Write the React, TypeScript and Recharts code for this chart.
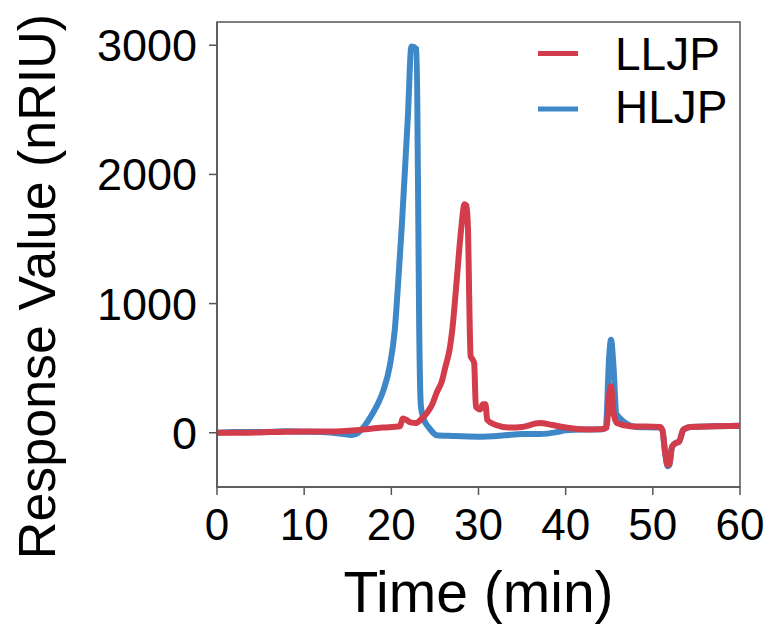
import React from "react";
import { LineChart, Line, XAxis, YAxis, ReferenceArea, Label } from "recharts";

// LLJP series (red)
const lljpTime = [0, 3, 6, 10, 13, 16, 19, 21, 21.3, 21.7, 22.2, 22.8, 23.5, 24.1, 24.7, 25.2, 25.8, 26.2, 26.7, 27, 27.5, 28, 28.4, 28.6, 28.8, 28.9, 29.0, 29.1, 29.3, 29.5, 29.7, 30.2, 30.5, 30.8, 31.0, 32, 33.5, 35, 37, 38.5, 40, 42.4, 44.3, 44.7, 45.0, 45.2, 45.5, 45.9, 47.4, 50.8, 51.1, 51.4, 51.7, 51.9, 52.2, 52.6, 53.0, 53.5, 54.3, 57, 60];
const lljpValues = [0, 0, 5, 10, 10, 20, 40, 50, 110, 100, 80, 75, 110, 155, 220, 310, 400, 510, 650, 800, 1180, 1570, 1770, 1760, 1570, 1180, 800, 590, 570, 540, 200, 180, 220, 220, 100, 60, 40, 45, 75, 60, 40, 25, 30, 40, 300, 360, 150, 75, 50, 45, 20, -150, -250, -240, -110, -80, -70, 25, 45, 50, 55];

// HLJP series (blue)
const hljpTime = [0, 2, 5, 8, 10, 12, 14, 15.5, 16.2, 17, 17.9, 18.5, 19.1, 19.8, 20.4, 20.8, 21.2, 21.5, 21.9, 22.3, 22.9, 23.05, 23.2, 23.4, 23.7, 24.3, 24.8, 25.2, 27, 30, 33, 35, 37, 39, 40, 42, 44, 44.6, 45.0, 45.2, 45.5, 45.8, 46.2, 47, 48, 50.8, 51.1, 51.4, 51.7, 51.9, 52.2, 52.6, 53.0, 53.5, 54.3, 57, 60];
const hljpValues = [0, 5, 5, 12, 8, 5, -5, -18, 0, 60, 155, 230, 330, 510, 800, 1180, 1600, 1960, 2450, 2990, 2970, 2000, 800, 200, 110, 40, 0, -20, -25, -30, -20, -10, -10, 5, 20, 25, 25, 40, 600, 720, 500, 150, 115, 70, 45, 40, 20, -150, -260, -250, -110, -80, -70, 20, 45, 50, 55];

const xTicks = [0, 10, 20, 30, 40, 50, 60];
const yTicks = [0, 1000, 2000, 3000];
const xDomain = [0, 60];
const yDomain = [-420, 3180];

const seriesNames = ["LLJP", "HLJP"];
const RED = "#d23c4b";
const BLUE = "#3f88c8";

const lljpData = lljpTime.map((t, i) => ({ t, v: lljpValues[i] }));
const hljpData = hljpTime.map((t, i) => ({ t, v: hljpValues[i] }));

const FONT = "'Liberation Sans', Arial, sans-serif";
const AXIS = "#555555";

const LegendBox = () => (
  <svg width={230} height={130} style={{ position: "absolute", left: 522, top: 17, fontFamily: FONT }}>
    <line x1={8} x2={48} y1={28.5} y2={28.5} stroke={RED} strokeWidth={5} />
    <text x={85} y={45} fontSize={46} fill="#000">{seriesNames[0]}</text>
    <line x1={8} x2={48} y1={84} y2={84} stroke={BLUE} strokeWidth={5} />
    <text x={85} y={98} fontSize={46} fill="#000">{seriesNames[1]}</text>
  </svg>
);

export default function App() {
  return (
    <div style={{ position: "relative", width: 766, height: 620, fontFamily: FONT }}>
      <LineChart width={766} height={620} margin={{ top: 14, right: 34, bottom: 0, left: 0 }}>
        <XAxis
          dataKey="t"
          type="number"
          domain={xDomain}
          ticks={xTicks}
          allowDataOverflow
          height={141}
          tickSize={8}
          tickMargin={14}
          tick={{ fontSize: 44, fill: "#000", fontFamily: FONT }}
          stroke={AXIS}
          strokeWidth={1.5}
        >
          <Label
            content={() => (
              <text x={470.5} y={604} textAnchor="middle" fontSize={57} fill="#000" fontFamily={FONT}>
                Time (min)
              </text>
            )}
          />
        </XAxis>
        <YAxis
          type="number"
          domain={yDomain}
          ticks={yTicks}
          allowDataOverflow
          width={209}
          tickSize={8}
          tickMargin={12}
          tick={{ fontSize: 45, fill: "#000", fontFamily: FONT }}
          stroke={AXIS}
          strokeWidth={1.5}
        >
          <Label
            content={() => (
              <text
                x={47}
                y={278.5}
                transform="rotate(-90, 47, 278.5)"
                textAnchor="middle"
                fontSize={52}
                fill="#000"
                fontFamily={FONT}
              >
                Response Value (nRIU)
              </text>
            )}
          />
        </YAxis>
        <ReferenceArea x1={0} x2={60} y1={-420} y2={3180} fill="none" stroke={AXIS} strokeWidth={1.5} ifOverflow="visible" />
        <Line
          data={hljpData}
          dataKey="v"
          name={seriesNames[1]}
          type="monotone"
          stroke={BLUE}
          strokeWidth={6}
          dot={false}
          strokeLinejoin="round"
          isAnimationActive={false}
        />
        <Line
          data={lljpData}
          dataKey="v"
          name={seriesNames[0]}
          type="monotone"
          stroke={RED}
          strokeWidth={6}
          dot={false}
          strokeLinejoin="round"
          isAnimationActive={false}
        />
      </LineChart>
      <LegendBox />
    </div>
  );
}
